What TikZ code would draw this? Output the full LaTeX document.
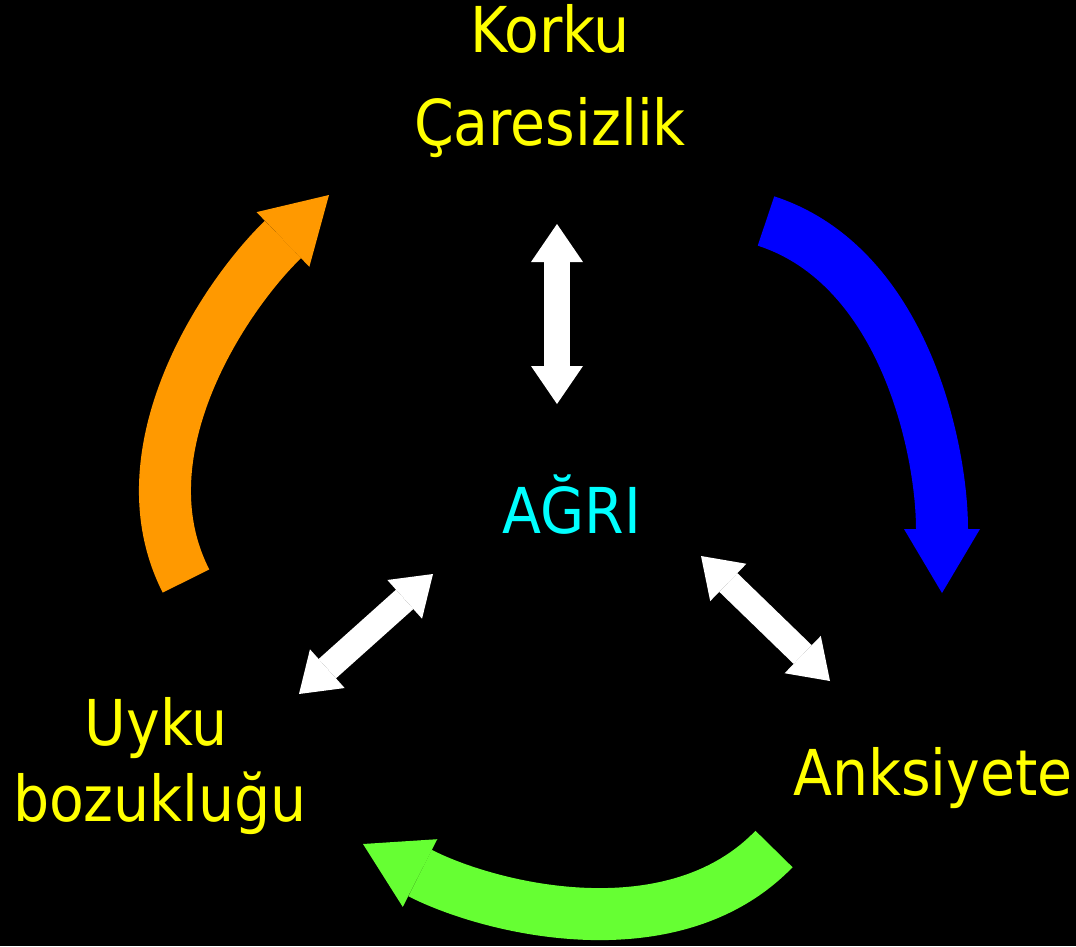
\documentclass[tikz,border=0pt]{standalone}
\usepackage{fontspec}
\setmainfont{DejaVu Sans Condensed}
\usepackage{tikz}
\usetikzlibrary{arrows.meta}

\definecolor{txtyellow}{RGB}{255,255,0}
\definecolor{txtcyan}{RGB}{0,255,255}
\definecolor{arrorange}{RGB}{255,153,0}
\definecolor{arrblue}{RGB}{0,0,255}
\definecolor{arrgreen}{RGB}{102,255,51}

\tikzset{
  label/.style={inner sep=0pt, anchor=base, text=txtyellow, font=\fontsize{18pt}{20pt}\selectfont},
  bigarrow/.style={line width=0.52cm, looseness=0.9, -{Triangle[width=0.76cm,length=0.64cm,line width=0pt]}},
  twoway/.style={white, line width=0.26cm,
    {Triangle[width=0.52cm,length=0.38cm,line width=0pt]}-{Triangle[width=0.52cm,length=0.38cm,line width=0pt]}}
}

\begin{document}
\begin{tikzpicture}
        \fill[black] (0,0) rectangle (10.76,-9.46);
        \useasboundingbox (0,0) rectangle (10.76,-9.46);
        \node[label] (korku) at (5.50,-0.52) {Korku};
        \node[label] (caresiz) at (5.50,-1.45) {Çaresizlik};
        \node[label, text=txtcyan] (agri) at (5.72,-5.33) {AĞRI};
        \node[label] (uyku) at (1.56,-7.45) {Uyku};
        \node[label] (bozuk) at (1.60,-8.21) {bozukluğu};
        \node[label] (anksiyete) at (9.33,-7.95) {Anksiyete};
        % ends of the big curved arrows
        \coordinate (ob) at (1.86,-5.81);
        \coordinate (oe) at (3.29,-1.95);
        \coordinate (bb) at (7.66,-2.21);
        \coordinate (be) at (9.42,-5.93);
        \coordinate (gb) at (7.74,-8.49);
        \coordinate (ge) at (3.63,-8.44);
        % ends of the white arrows
        \coordinate (vt) at (5.57,-2.24);
        \coordinate (vb) at (5.57,-4.04);
        \coordinate (lt) at (4.33,-5.74);
        \coordinate (lb) at (2.99,-6.94);
        \coordinate (rt) at (7.01,-5.56);
        \coordinate (rb) at (8.30,-6.81);
        \draw[arrorange, bigarrow] (ob) to[out=117,in=224] (oe);
        \draw[arrblue, bigarrow] (bb) to[out=-18,in=90] (be);
        \draw[arrgreen, bigarrow] (gb) to[out=226,in=333] (ge);
        \draw[twoway] (vt) -- (vb);
        \draw[twoway] (lt) -- (lb);
        \draw[twoway] (rt) -- (rb);
    \end{tikzpicture}
\end{document}
